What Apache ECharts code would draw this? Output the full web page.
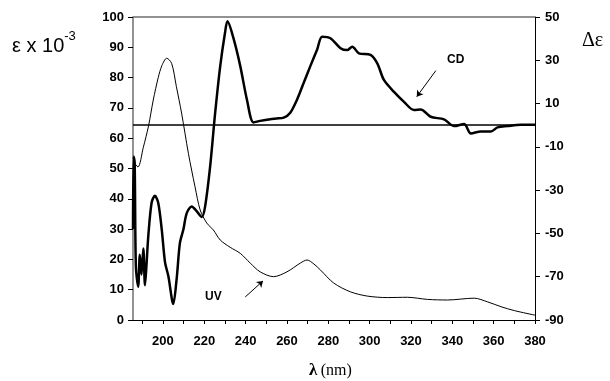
<!DOCTYPE html>
<html>
<head>
<meta charset="utf-8">
<script src="https://cdn.jsdelivr.net/npm/echarts@6/dist/echarts.min.js"></script>
<style>
  html, body { margin: 0; padding: 0; background: #fff; }
  #chart { width: 610px; height: 381px; }
</style>
</head>
<body>
<div id="chart"></div>
<script>
// UV absorption (left axis, ε x 10^-3)
const uvWavelength = [186, 187.9, 190.5, 193, 195.3, 197.7, 199.5, 201.8, 204.2, 206.5, 209, 212.3, 215.5, 218, 221.2, 224.4, 227.7, 232.5, 237.4, 242.2, 247, 253.5, 260, 266.5, 269.7, 273, 276.2, 282.6, 290.7, 298.8, 308.5, 318.2, 328, 337.6, 350.6, 357, 363.5, 370, 380];
const uvEpsilon = [52, 50.5, 57, 64, 72.6, 80, 84, 86.4, 84.7, 77, 68.3, 55, 44, 36.3, 32, 29.7, 26.4, 24, 22, 18.8, 15.9, 14.3, 15.9, 18.8, 19.8, 18.5, 16.5, 12.2, 9.3, 7.9, 7.4, 7.5, 6.8, 6.6, 7.2, 6, 4.4, 3.1, 1.6];

// CD spectrum (right axis, Δε)
const cdWavelength = [185.5, 185.8, 186.3, 186.9, 188, 188.8, 189.6, 190.5, 191.3, 192.1, 192.9, 194.5, 196.1, 197.7, 199.4, 201, 202.6, 205, 206.6, 208.2, 209.9, 211.5, 213.9, 216.3, 218.8, 220.4, 222.8, 225.2, 227.7, 230, 231.2, 234.1, 237.4, 240.6, 243.8, 247, 251.9, 255, 258.4, 261.6, 264.9, 268.1, 271.3, 274.6, 277, 281, 285.9, 289.1, 291.6, 294.8, 300.4, 303.7, 306.9, 311.8, 316.6, 321.5, 324.7, 329.5, 336, 340.9, 345.7, 349, 353.8, 358.6, 361.9, 366.7, 373.2, 380];
const cdDelta = [-48, -14.4, -17.2, -65.4, -74.6, -59.9, -69, -57, -73.9, -63.4, -51.2, -35.8, -32.6, -35.8, -48.1, -63.4, -69.7, -82.6, -71.2, -54.4, -48.1, -40.6, -37.5, -39.7, -42.4, -37.5, -19.3, 5.2, 27.3, 42.6, 48, 40.2, 27.3, 11.9, 1.3, 2, 2.8, 3.1, 3.5, 5.8, 11.9, 19.6, 27.3, 35, 40.9, 40.2, 35.6, 34.7, 36.3, 33.2, 32.5, 28.6, 20.9, 15.4, 10.8, 7, 7.3, 3.9, 2.7, -0.4, 0.6, -3.8, -2.9, -2.9, -1, -0.4, 0.2, 0.2];

// axis ticks and labels
const xTicks = [190, 200, 210, 220, 230, 240, 250, 260, 270, 280, 290, 300, 310, 320, 330, 340, 350, 360, 370, 380];
const xLabels = [200, 220, 240, 260, 280, 300, 320, 340, 360, 380];
const rightTicks = [-90, -70, -50, -30, -10, 10, 30, 50];

// annotation arrows [from, to] in data units
const cdArrow = [[332, 25.2], [322.8, 13.2]];
const uvArrow = [[239.8, 7.6], [248.4, 12.9]];

const chart = echarts.init(document.getElementById("chart"), null, { renderer: "canvas" });

const tickFont = {
  fontFamily: "Liberation Sans",
  fontWeight: "bold",
  fontSize: 13,
  color: "#000",
};

const options = {
  backgroundColor: "#fff",
  animation: false,
  grid: { left: 133, right: 75, top: 17, bottom: 61 },
  xAxis: {
    type: "value",
    min: 185.5,
    max: 380,
    axisLine: { lineStyle: { color: "#000", width: 1 } },
    axisTick: { length: 4, customValues: xTicks, lineStyle: { color: "#000" } },
    axisLabel: { ...tickFont, margin: 15, customValues: xLabels },
    splitLine: { show: false },
  },
  yAxis: [
    {
      type: "value",
      min: 0,
      max: 100,
      interval: 10,
      axisLine: { show: true, lineStyle: { color: "#6e6e6e", width: 1.5 } },
      axisTick: { show: true, length: 5, lineStyle: { color: "#000" } },
      axisLabel: { ...tickFont, margin: 9 },
      splitLine: { show: false },
    },
    {
      type: "value",
      min: -90,
      max: 50,
      position: "right",
      axisLine: { show: true, lineStyle: { color: "#000", width: 1 } },
      axisTick: { show: true, length: 5, customValues: rightTicks, lineStyle: { color: "#000" } },
      axisLabel: { ...tickFont, margin: 10, customValues: rightTicks },
      splitLine: { show: false },
    },
  ],
  series: [
    {
      name: "UV",
      type: "line",
      yAxisIndex: 0,
      data: uvWavelength.map((x, i) => [x, uvEpsilon[i]]),
      showSymbol: false,
      smooth: 0.3,
      lineStyle: { color: "#000", width: 1 },
      markLine: {
        silent: true,
        symbol: ["none", "arrow"],
        symbolSize: 6,
        label: { show: false },
        lineStyle: { color: "#000", width: 1, type: "solid" },
        data: [[{ coord: uvArrow[0] }, { coord: uvArrow[1] }]],
      },
    },
    {
      name: "CD",
      type: "line",
      yAxisIndex: 1,
      data: cdWavelength.map((x, i) => [x, cdDelta[i]]),
      showSymbol: false,
      smooth: 0.3,
      lineStyle: { color: "#000", width: 2.5 },
      markLine: {
        silent: true,
        symbol: ["none", "none"],
        label: { show: false },
        lineStyle: { color: "#000", width: 1.5, type: "solid" },
        data: [{ yAxis: 0 }],
      },
    },
    {
      name: "CD arrow",
      type: "line",
      yAxisIndex: 1,
      data: [],
      markLine: {
        silent: true,
        symbol: ["none", "arrow"],
        symbolSize: 6,
        label: { show: false },
        lineStyle: { color: "#000", width: 1, type: "solid" },
        data: [[{ coord: cdArrow[0] }, { coord: cdArrow[1] }]],
      },
    },
  ],
  graphic: [
    {
      type: "text",
      left: 12,
      top: 30,
      style: {
        text: "{b|ε x 10}{s|-3}",
        rich: {
          b: { fontFamily: "Liberation Sans", fontSize: 20, fill: "#000", verticalAlign: "bottom", lineHeight: 26 },
          s: { fontFamily: "Liberation Sans", fontSize: 13, fill: "#000", verticalAlign: "top", lineHeight: 26, padding: [0, 0, 10, 0] },
        },
      },
    },
    {
      type: "text",
      left: 582,
      top: 31,
      style: { text: "Δε", fontFamily: "Liberation Serif", fontSize: 20, fill: "#000" },
    },
    {
      type: "text",
      left: 309,
      top: 362,
      style: {
        text: "{l|λ} {n|(nm)}",
        rich: {
          l: { fontFamily: "Liberation Serif", fontWeight: "bold", fontSize: 17, fill: "#000" },
          n: { fontFamily: "Liberation Serif", fontSize: 16, fill: "#000" },
        },
      },
    },
    {
      type: "text",
      left: 447,
      top: 54,
      style: { text: "CD", fontFamily: "Liberation Sans", fontWeight: "bold", fontSize: 12, fill: "#000" },
    },
    {
      type: "text",
      left: 205,
      top: 291,
      style: { text: "UV", fontFamily: "Liberation Sans", fontWeight: "bold", fontSize: 12, fill: "#000" },
    },
    {
      type: "line",
      shape: { x1: 133, y1: 17, x2: 535, y2: 17 },
      style: { stroke: "#6e6e6e", lineWidth: 1.5 },
    },
  ],
};

chart.setOption(options);
</script>
</body>
</html>
